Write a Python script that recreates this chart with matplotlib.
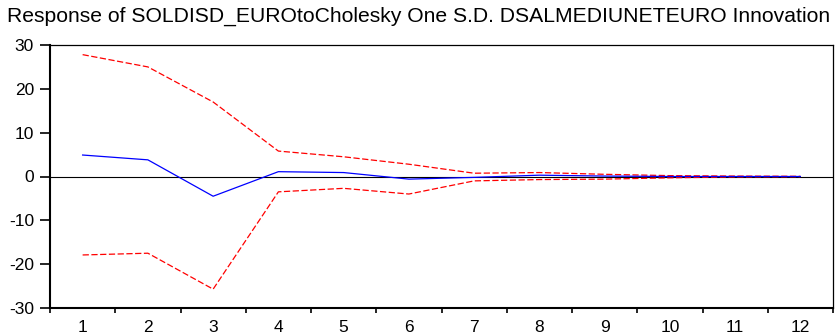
import numpy as np
import matplotlib
matplotlib.use('Agg')
import matplotlib.pyplot as plt

plt.rcParams['font.family'] = ['Liberation Sans', 'DejaVu Sans']
plt.rcParams['axes.unicode_minus'] = False

# impulse response and +/- 2 S.E. bands
periods = [1, 2, 3, 4, 5, 6, 7, 8, 9, 10, 11, 12]
response = [4.9, 3.8, -4.5, 1.1, 0.9, -0.6, -0.2, 0.3, 0.1, 0.0, 0.0, 0.0]
upper = [27.8, 25.0, 17.0, 5.8, 4.5, 2.8, 0.75, 0.9, 0.5, 0.2, 0.1, 0.05]
lower = [-17.9, -17.5, -25.7, -3.5, -2.7, -4.0, -1.0, -0.7, -0.6, -0.3, -0.1, -0.05]
yticks = [-30, -20, -10, 0, 10, 20, 30]

fig = plt.figure(figsize=(8.4, 3.36), dpi=100)
ax = fig.add_axes([50 / 840, 1 - 308 / 336, 783 / 840, 263 / 336])

ax.axhline(0, color='black', lw=0.8)
ax.plot(periods, upper, color='red', lw=0.9, ls=(0, (5, 2)))
ax.plot(periods, lower, color='red', lw=0.9, ls=(0, (5, 2)))
ax.plot(periods, response, color='blue', lw=0.9)

ax.set_xlim(0.5, 12.5)
ax.set_ylim(-30, 30)
ax.set_yticks(yticks)
ax.set_xticks(periods)
ax.set_xticks(np.arange(0.5, 13, 1), minor=True)
ax.tick_params(axis='x', which='major', length=0, labelsize=12.5, pad=9)
ax.tick_params(axis='x', which='minor', length=3.5, width=1.2, direction='out')
ax.tick_params(axis='y', length=7.5, width=1.2, labelsize=12.5, pad=4)

for side in ['left', 'bottom']:
    ax.spines[side].set_linewidth(1.5)
for side in ['top', 'right']:
    ax.spines[side].set_linewidth(0.9)

fig.text(7 / 840, 1 - 16 / 336,
         'Response of SOLDISD_EUROtoCholesky One S.D. DSALMEDIUNETEURO Innovation',
         fontsize=15.2, va='center', ha='left')

fig.savefig('out.png', dpi=100)
